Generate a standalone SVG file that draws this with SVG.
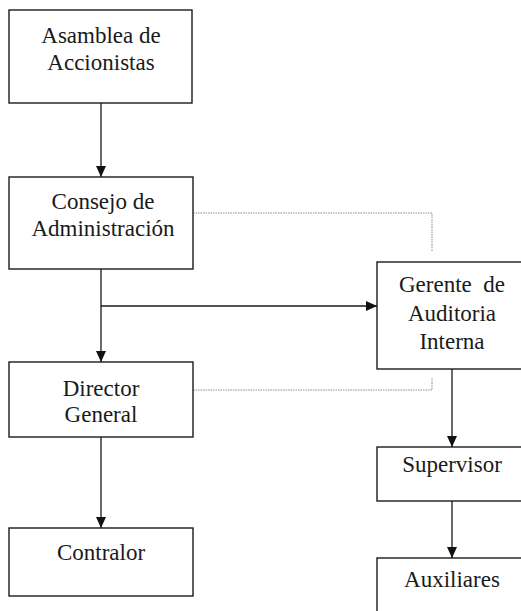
<svg xmlns="http://www.w3.org/2000/svg" width="521" height="611" viewBox="0 0 521 611">
  <style>
    .box { fill: #ffffff; stroke: #1a1a1a; stroke-width: 1.4; }
    .lbl { font-family: "Liberation Serif", "Times New Roman", serif; font-size: 23px; fill: #1a1a1a; text-anchor: middle; white-space: pre; }
    .solid { fill: none; stroke: #1a1a1a; stroke-width: 1.3; }
    .dotted { fill: none; stroke: #8a8a8a; stroke-width: 1; stroke-dasharray: 1.5 1; }
  </style>
  <defs>
    <marker id="arrow" viewBox="0 0 10 11" refX="11" refY="5.5" markerWidth="11" markerHeight="11" markerUnits="userSpaceOnUse" orient="auto">
      <path d="M0,0.5 L11,5.5 L0,10.5 Z" fill="#111111"/>
    </marker>
  </defs>

  <rect width="521" height="611" fill="#ffffff"/>

  <g id="connectors">
    <line class="solid" x1="101" y1="103" x2="101" y2="177" marker-end="url(#arrow)"/>
    <line class="solid" x1="101" y1="269" x2="101" y2="362" marker-end="url(#arrow)"/>
    <line class="solid" x1="101" y1="306" x2="377" y2="306" marker-end="url(#arrow)"/>
    <line class="solid" x1="101" y1="437" x2="101" y2="528" marker-end="url(#arrow)"/>
    <line class="solid" x1="452" y1="369" x2="452" y2="447" marker-end="url(#arrow)"/>
    <line class="solid" x1="452" y1="501" x2="452" y2="558" marker-end="url(#arrow)"/>
    <polyline class="dotted" points="193,213 432,213 432,252"/>
    <polyline class="dotted" points="193,390 432,390 432,378"/>
  </g>

  <g id="asamblea">
    <rect class="box" x="9" y="10" width="183" height="93"/>
    <text class="lbl" x="101" y="43">Asamblea de</text>
    <text class="lbl" x="101" y="70">Accionistas</text>
  </g>

  <g id="consejo">
    <rect class="box" x="9" y="177" width="184" height="92"/>
    <text class="lbl" x="103" y="209">Consejo de</text>
    <text class="lbl" x="103" y="236">Administración</text>
  </g>

  <g id="director">
    <rect class="box" x="9" y="362" width="184" height="75"/>
    <text class="lbl" x="101" y="396">Director</text>
    <text class="lbl" x="101" y="422">General</text>
  </g>

  <g id="contralor">
    <rect class="box" x="9" y="528" width="184" height="68"/>
    <text class="lbl" x="101" y="560">Contralor</text>
  </g>

  <g id="gerente">
    <rect class="box" x="377" y="262" width="150" height="107"/>
    <text class="lbl" x="452" y="292" xml:space="preserve">Gerente  de</text>
    <text class="lbl" x="452" y="321">Auditoria</text>
    <text class="lbl" x="452" y="349">Interna</text>
  </g>

  <g id="supervisor">
    <rect class="box" x="377" y="447" width="150" height="54"/>
    <text class="lbl" x="452" y="472">Supervisor</text>
  </g>

  <g id="auxiliares">
    <rect class="box" x="377" y="558" width="150" height="70"/>
    <text class="lbl" x="452" y="587">Auxiliares</text>
  </g>
</svg>
